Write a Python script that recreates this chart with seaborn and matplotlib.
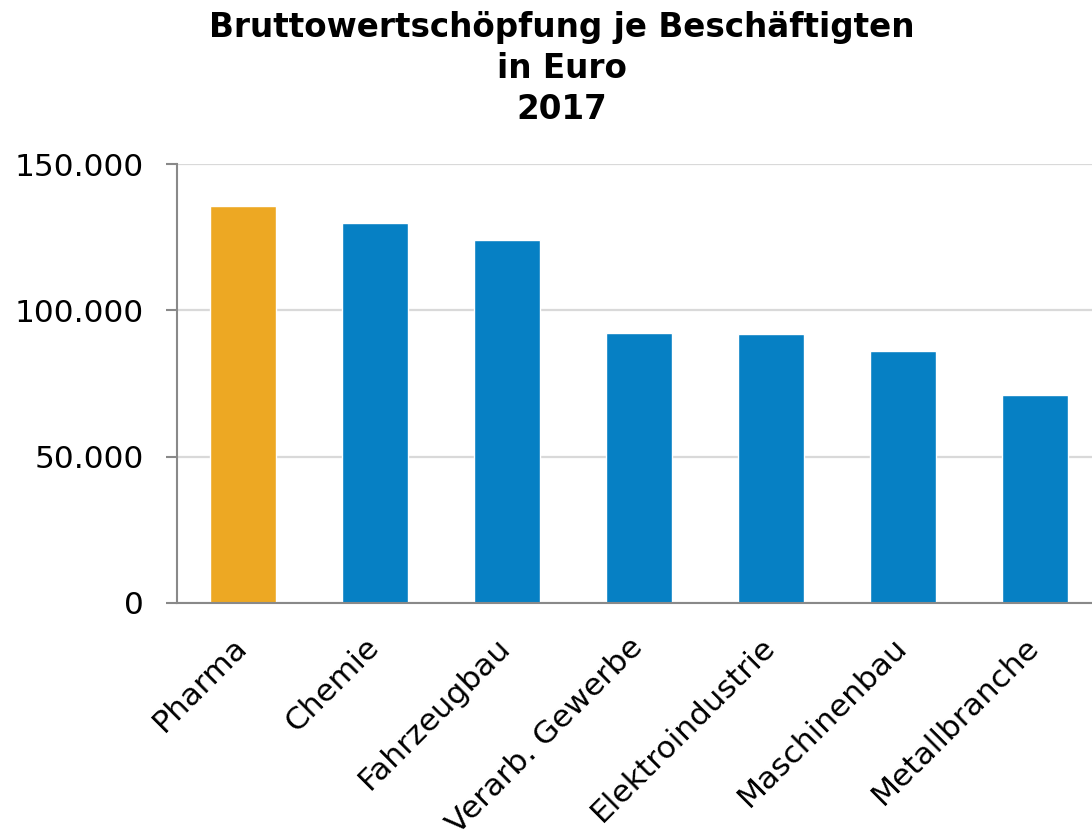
import pandas as pd
import matplotlib.pyplot as plt
import matplotlib.transforms as mtransforms
import seaborn as sns
from matplotlib.ticker import FixedLocator, FuncFormatter

# === Daten ===
branchen = ["Pharma", "Chemie", "Fahrzeugbau", "Verarb. Gewerbe",
            "Elektroindustrie", "Maschinenbau", "Metallbranche"]
werte = [135600, 129800, 124200, 92100, 91800, 86000, 70900]
gruppe = ["Pharma", "andere", "andere", "andere", "andere", "andere", "andere"]
farben = {"Pharma": "#EDA823", "andere": "#0680C4"}

df = pd.DataFrame({"branche": branchen, "wert": werte, "gruppe": gruppe})

sns.set_style("white")
plt.rcParams['font.family'] = ['DejaVu Sans']
plt.rcParams['text.color'] = 'black'
plt.rcParams['xtick.labelcolor'] = 'black'
plt.rcParams['ytick.labelcolor'] = 'black'

fig = plt.figure(figsize=(10.92, 8.35), dpi=100)
ax = fig.add_axes([177 / 1092, 1 - 603 / 835, 924 / 1092, 439 / 835])

sns.barplot(data=df, x="branche", y="wert", hue="gruppe", palette=farben,
            width=0.5, dodge=False, legend=False, saturation=1, ax=ax)

ax.set_xlim(-0.5, len(branchen) - 0.5)
ax.set_ylim(0, 150000)
ax.set_xlabel("")
ax.set_ylabel("")

# y-Achse
ax.set_yticks([0, 50000, 100000, 150000])
ax.yaxis.set_major_formatter(FuncFormatter(lambda v, p: f"{int(v):,}".replace(",", ".")))
ax.grid(axis="y", color="#d9d9d9", linewidth=1.6)
ax.set_axisbelow(True)

# x-Achse: Striche zwischen den Kategorien
ax.set_xticks(range(len(branchen)))
ax.set_xticklabels(branchen, rotation=45, ha="right", rotation_mode="anchor")
ax.xaxis.set_minor_locator(FixedLocator([i - 0.5 for i in range(len(branchen) + 1)]))
ax.tick_params(axis="x", which="major", length=0, pad=21, labelsize=22.5)
ax.tick_params(axis="x", which="minor", length=8, width=1.5, color="#898989", direction="out")
ax.tick_params(axis="y", length=8, width=1.5, color="#898989", pad=16, labelsize=22.5, left=True)

versatz = mtransforms.ScaledTranslation(-11 / 100, 0, fig.dpi_scale_trans)
for lbl in ax.get_xticklabels():
    lbl.set_transform(lbl.get_transform() + versatz)

for s in ["top", "right"]:
    ax.spines[s].set_visible(False)
for s in ["left", "bottom"]:
    ax.spines[s].set_color("#898989")
    ax.spines[s].set_linewidth(1.5)

fig.text(562 / 1092, 1 - 11 / 835,
         "Bruttowertschöpfung je Beschäftigten\nin Euro\n2017",
         ha="center", va="top", fontsize=23.5, fontweight="bold", linespacing=1.3)

fig.savefig("out.png", dpi=100)
